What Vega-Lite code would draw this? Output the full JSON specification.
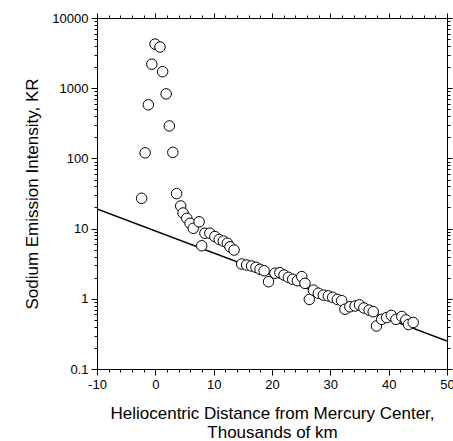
{
  "$schema": "https://vega.github.io/schema/vega-lite/v6.json",
  "width": 350,
  "height": 351,
  "autosize": "none",
  "padding": {"left": 97, "top": 18, "right": 6, "bottom": 72},
  "background": "white",
  "config": {
    "view": {"stroke": null},
    "font": "Liberation Sans",
    "axis": {
      "grid": false,
      "domainColor": "black",
      "tickColor": "black",
      "labelColor": "black",
      "titleColor": "black",
      "labelFont": "Liberation Sans",
      "titleFont": "Liberation Sans",
      "labelFontSize": 13,
      "titleFontSize": 17,
      "titleFontWeight": "normal",
      "domainWidth": 1,
      "tickWidth": 1,
      "labelOverlap": false,
      "labelFlush": false
    }
  },
  "datasets": {
    "fit": [{"x": -10, "y": 19}, {"x": 50, "y": 0.25}],
    "obs": [
      {"x": -0.05, "y": 4250}, {"x": 0.8, "y": 3860}, {"x": -0.6, "y": 2200}, {"x": 1.25, "y": 1720},
      {"x": 1.85, "y": 830}, {"x": -1.2, "y": 580}, {"x": 2.4, "y": 290}, {"x": -1.75, "y": 120},
      {"x": 3.0, "y": 122}, {"x": -2.35, "y": 27}, {"x": 3.65, "y": 31.5},
      {"x": 4.35, "y": 21}, {"x": 4.75, "y": 16.7}, {"x": 5.4, "y": 14.0}, {"x": 5.95, "y": 11.9},
      {"x": 6.5, "y": 10.1}, {"x": 7.5, "y": 12.5}, {"x": 7.95, "y": 5.7}, {"x": 8.5, "y": 8.6},
      {"x": 9.35, "y": 8.6}, {"x": 10.2, "y": 7.7}, {"x": 10.95, "y": 7.0}, {"x": 11.65, "y": 6.65},
      {"x": 12.35, "y": 6.2}, {"x": 12.8, "y": 5.5}, {"x": 13.5, "y": 4.95}, {"x": 14.8, "y": 3.13},
      {"x": 15.65, "y": 3.03}, {"x": 16.5, "y": 2.93}, {"x": 17.25, "y": 2.81}, {"x": 17.95, "y": 2.63},
      {"x": 18.65, "y": 2.51}, {"x": 19.4, "y": 1.75}, {"x": 20.5, "y": 2.31}, {"x": 21.35, "y": 2.36},
      {"x": 22.05, "y": 2.18}, {"x": 22.8, "y": 2.02}, {"x": 23.55, "y": 1.9}, {"x": 24.35, "y": 1.81},
      {"x": 25.1, "y": 2.07}, {"x": 25.65, "y": 1.66}, {"x": 26.4, "y": 0.98}, {"x": 27.1, "y": 1.33},
      {"x": 27.95, "y": 1.2}, {"x": 28.8, "y": 1.13}, {"x": 29.65, "y": 1.1}, {"x": 30.4, "y": 1.05},
      {"x": 31.2, "y": 0.98}, {"x": 31.95, "y": 0.94}, {"x": 32.5, "y": 0.71}, {"x": 33.35, "y": 0.77},
      {"x": 34.25, "y": 0.79}, {"x": 35.0, "y": 0.82}, {"x": 35.75, "y": 0.74}, {"x": 36.65, "y": 0.69},
      {"x": 37.35, "y": 0.655}, {"x": 37.9, "y": 0.41}, {"x": 38.8, "y": 0.51}, {"x": 39.65, "y": 0.54},
      {"x": 40.45, "y": 0.58}, {"x": 41.25, "y": 0.51}, {"x": 42.25, "y": 0.56}, {"x": 42.95, "y": 0.5},
      {"x": 43.4, "y": 0.43}, {"x": 44.2, "y": 0.46}
    ]
  },
  "layer": [
    {
      "data": {"name": "fit"},
      "mark": {"type": "line", "color": "black", "strokeWidth": 1.5, "clip": true},
      "encoding": {
        "x": {
          "field": "x", "type": "quantitative",
          "scale": {"domain": [-10, 50], "nice": false, "zero": false},
          "axis": {
            "orient": "top", "title": null, "labels": false,
            "values": [-10,-8,-6,-4,-2,0,2,4,6,8,10,12,14,16,18,20,22,24,26,28,30,32,34,36,38,40,42,44,46,48,50],
            "tickSize": {"condition": {"test": "datum.value % 10 === 0", "value": 5}, "value": 3}
          }
        },
        "y": {
          "field": "y", "type": "quantitative",
          "scale": {"type": "log", "domain": [0.1, 10000], "nice": false},
          "axis": {
            "orient": "right", "title": null, "labels": false,
            "values": [0.1,0.2,0.3,0.4,0.5,0.6,0.7,0.8,0.9,1,2,3,4,5,6,7,8,9,10,20,30,40,50,60,70,80,90,100,200,300,400,500,600,700,800,900,1000,2000,3000,4000,5000,6000,7000,8000,9000,10000],
            "tickSize": {"condition": {"test": "abs(log(datum.value)/LN10 - round(log(datum.value)/LN10)) < 1e-6", "value": 5}, "value": 3}
          }
        }
      }
    },
    {
      "data": {"name": "obs"},
      "mark": {"type": "circle", "fill": "white", "stroke": "black", "strokeWidth": 1, "opacity": 1, "fillOpacity": 1, "size": 110},
      "encoding": {
        "x": {
          "field": "x", "type": "quantitative",
          "scale": {"domain": [-10, 50], "nice": false, "zero": false},
          "axis": {
            "orient": "bottom",
            "title": ["Heliocentric Distance from Mercury Center,", "Thousands of km"],
            "values": [-10,-8,-6,-4,-2,0,2,4,6,8,10,12,14,16,18,20,22,24,26,28,30,32,34,36,38,40,42,44,46,48,50],
            "labelExpr": "datum.value % 10 === 0 ? '' + datum.value : ''",
            "tickSize": {"condition": {"test": "datum.value % 10 === 0", "value": 6}, "value": 3},
            "labelPadding": 3,
            "titlePadding": 14
          }
        },
        "y": {
          "field": "y", "type": "quantitative",
          "scale": {"type": "log", "domain": [0.1, 10000], "nice": false},
          "axis": {
            "orient": "left",
            "title": "Sodium Emission Intensity, KR",
            "values": [0.1,0.2,0.3,0.4,0.5,0.6,0.7,0.8,0.9,1,2,3,4,5,6,7,8,9,10,20,30,40,50,60,70,80,90,100,200,300,400,500,600,700,800,900,1000,2000,3000,4000,5000,6000,7000,8000,9000,10000],
            "labelExpr": "abs(log(datum.value)/LN10 - round(log(datum.value)/LN10)) < 1e-6 ? format(datum.value, '~g') : ''",
            "tickSize": {"condition": {"test": "abs(log(datum.value)/LN10 - round(log(datum.value)/LN10)) < 1e-6", "value": 6}, "value": 3},
            "labelPadding": 3,
            "titlePadding": 10
          }
        }
      }
    }
  ],
  "resolve": {"axis": {"x": "independent", "y": "independent"}}
}
